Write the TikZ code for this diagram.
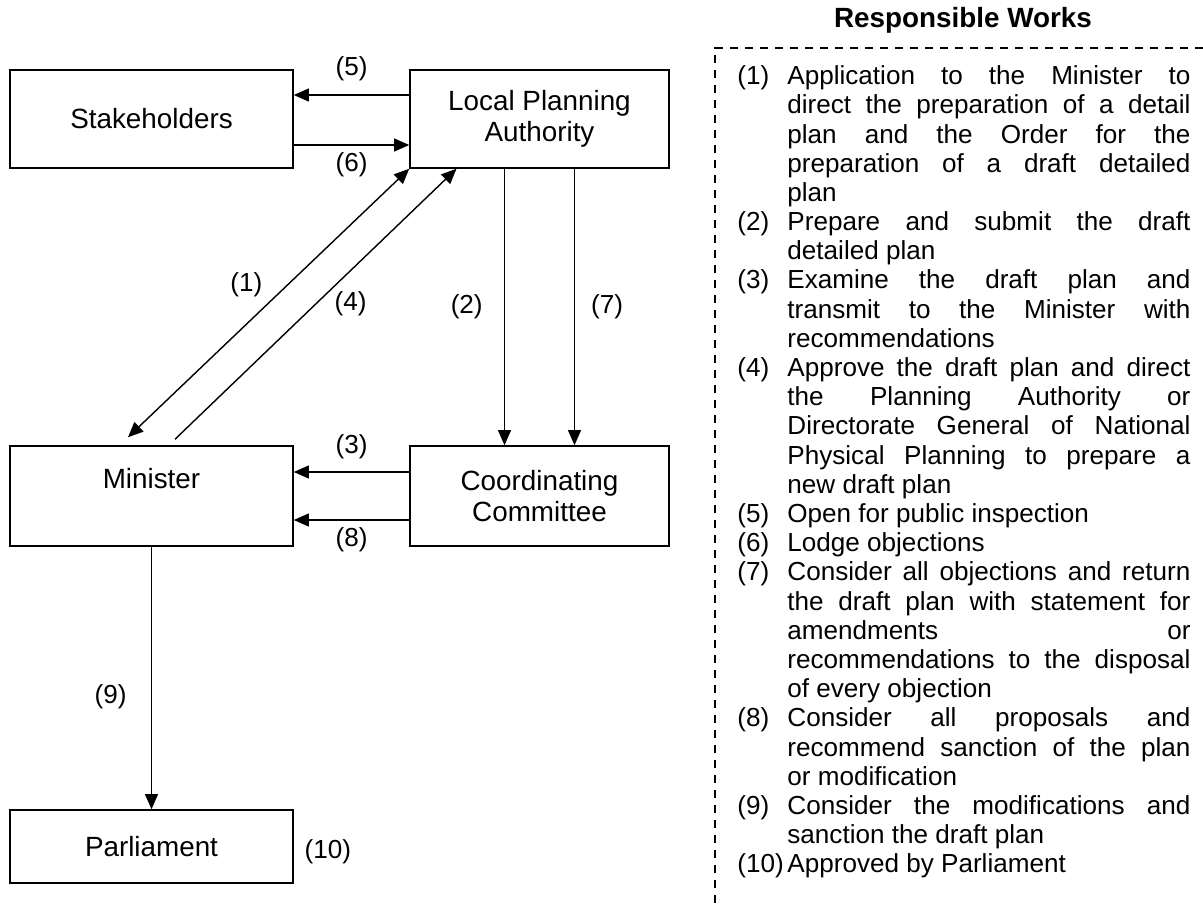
\documentclass[tikz,border=0pt]{standalone}
\usepackage{fontspec}
\setmainfont{Liberation Sans}
\usepackage{tikz}
\usetikzlibrary{arrows.meta, positioning}

\newcommand*{\pxu}{0.46pt}
\newcommand{\work}[2]{\par\hangindent=23pt\hangafter=1\noindent\makebox[23pt][l]{#1}#2}

\begin{document}
\begin{tikzpicture}[x=0.46pt, y=-0.46pt,
    font=\fontsize{12}{13.5}\selectfont,
    rbox/.style={draw, rectangle, line width=0.7pt, inner sep=0pt, align=center,
        font=\fontsize{12.8}{14}\selectfont},
    arr/.style={-{Triangle[length=7pt,width=6pt]}, line width=0.65pt}]
    \useasboundingbox (0,0) rectangle (1203,905);
    % boxes
    \node[rbox, minimum width=283*\pxu, minimum height=98*\pxu] (stake) at (151.5,119) {Stakeholders};
    \node[rbox, minimum width=259*\pxu, minimum height=98*\pxu] (lpa) at (539.5,119) {Local Planning\\Authority};
    \node[rbox, minimum width=283*\pxu, minimum height=100*\pxu, text depth=16pt] (minister) at (151.5,496) {Minister};
    \node[rbox, minimum width=259*\pxu, minimum height=100*\pxu] (ccomm) at (539.5,496) {Coordinating\\Committee};
    \node[rbox, minimum width=283*\pxu, minimum height=73*\pxu] (parl) at (151.5,846.5) {Parliament};
    \node[right=1.5pt of parl, yshift=-2.5pt] (n10) {(10)};

    % connectors
    \draw[arr] ([yshift=24*\pxu]lpa.west) -- node[above=3pt] (n5) {(5)} ([yshift=24*\pxu]stake.east);
    \draw[arr] ([yshift=-26*\pxu]stake.east) -- node[below] (n6) {(6)} ([yshift=-26*\pxu]lpa.west);
    \draw[arr, {Triangle[length=7pt,width=6pt]}-{Triangle[length=7pt,width=6pt]}]
        (lpa.south west) -- node[above left=-1pt] (n1) {(1)} ([xshift=-23.5*\pxu, yshift=8*\pxu]minister.north);
    \draw[arr] ([xshift=23.5*\pxu, yshift=6*\pxu]minister.north) -- node[right=5pt] (n4) {(4)} ([xshift=-83*\pxu]lpa.south);
    \draw[arr] ([xshift=-35*\pxu]lpa.south) -- node[left=6.4pt] (n2) {(2)} ([xshift=-35*\pxu]ccomm.north);
    \draw[arr] ([xshift=35*\pxu]lpa.south) -- node[right=4pt] (n7) {(7)} ([xshift=35*\pxu]ccomm.north);
    \draw[arr] ([yshift=24*\pxu]ccomm.west) -- node[above=2.5pt] (n3) {(3)} ([yshift=24*\pxu]minister.east);
    \draw[arr] ([yshift=-24*\pxu]ccomm.west) -- node[below] (n8) {(8)} ([yshift=-24*\pxu]minister.east);
    \draw[arr] (minister) -- node[left=7.8pt, pos=0.57] (n9) {(9)} (parl);

    % responsible works
    \node[font=\fontsize{12.8}{14}\selectfont\bfseries] (title) at (963,20) {Responsible Works};
    \draw[dash pattern=on 3.7pt off 3.2pt, line width=0.5pt] (1203,48) -- (715,48) -- (715,905);
    \node[anchor=north west, inner sep=0pt, text width=208.4pt, align=justify,
        font=\fontsize{12}{13.43}\selectfont] (works) at (737,55) {%
        \tolerance=10000 \hyphenpenalty=10000 %
        \work{(1)}{Application to the Minister to\linebreak direct the preparation of a detail\linebreak plan and the Order for the\linebreak preparation of a draft detailed\linebreak plan}
        \work{(2)}{Prepare and submit the draft\linebreak detailed plan}
        \work{(3)}{Examine the draft plan and\linebreak transmit to the Minister with\linebreak recommendations}
        \work{(4)}{Approve the draft plan and direct\linebreak the Planning Authority or\linebreak Directorate General of National\linebreak Physical Planning to prepare a\linebreak new draft plan}
        \work{(5)}{Open for public inspection}
        \work{(6)}{Lodge objections}
        \work{(7)}{Consider all objections and return\linebreak the draft plan with statement for\linebreak amendments or\linebreak recommendations to the disposal\linebreak of every objection}
        \work{(8)}{Consider all proposals and\linebreak recommend sanction of the plan\linebreak or modification}
        \work{(9)}{Consider the modifications and\linebreak sanction the draft plan}
        \work{(10)}{Approved by Parliament}\par};
\end{tikzpicture}
\end{document}
